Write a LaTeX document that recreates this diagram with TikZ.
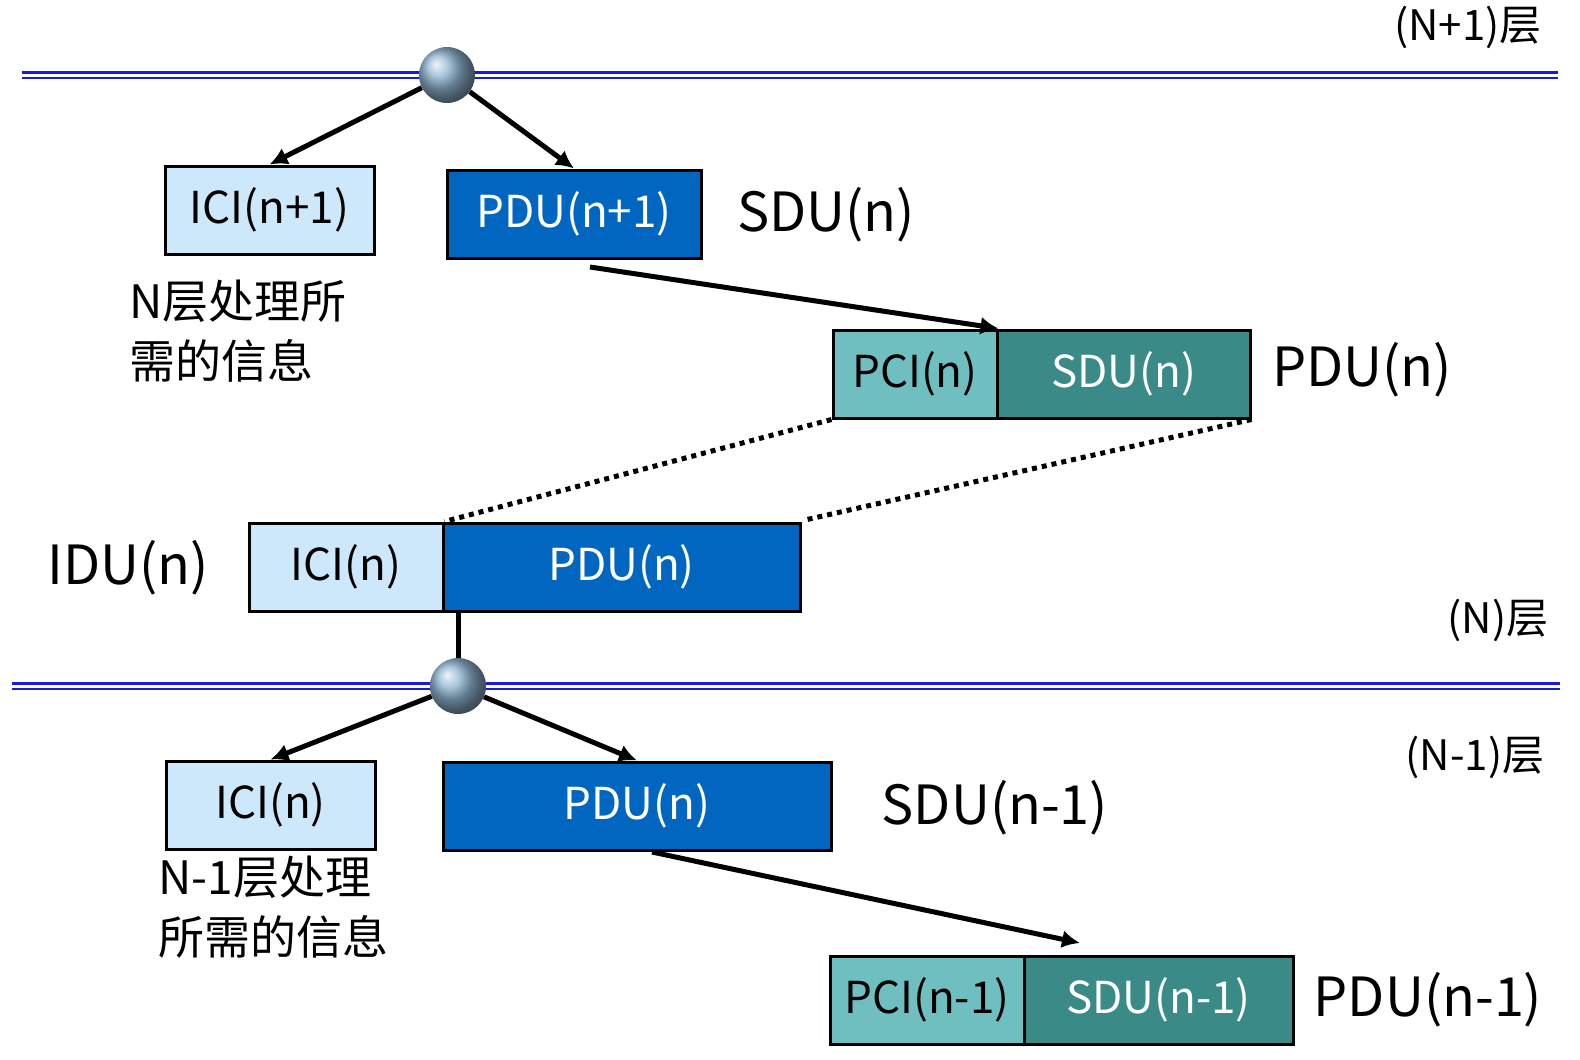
\documentclass[tikz,border=0pt]{standalone}
\usepackage{fontspec}
\setmainfont{Noto Sans CJK SC}
\usetikzlibrary{arrows.meta}
\definecolor{lb}{HTML}{CCE8FA}
\definecolor{db}{HTML}{0066C0}
\definecolor{tl}{HTML}{70BFC0}
\definecolor{td}{HTML}{3A8A88}
\definecolor{ln}{HTML}{1A1ADD}
\definecolor{bc}{HTML}{8FB4D0}
\begin{document}
\begin{tikzpicture}[x=1pt,y=-1pt,
  bx/.style={draw=black,line width=3pt,minimum height=88pt,inner sep=0pt,font=\fontsize{44}{48}\selectfont},
  lbox/.style={bx,fill=lb},
  dbox/.style={bx,fill=db,text=white},
  tbox/.style={bx,fill=tl},
  ubox/.style={bx,fill=td,text=white},
  big/.style={font=\fontsize{54}{58}\selectfont},
  lay/.style={font=\fontsize{42}{46}\selectfont},
  cn/.style={font=\fontsize{46}{60}\selectfont,align=left},
  arr/.style={line width=5pt,-{Latex[length=18pt,width=18pt]}},
  bus/.style={draw=ln,double=white,double distance=3pt,line width=2.5pt},
  ball/.style={circle,minimum size=56pt,inner sep=0pt,ball color=bc,draw=none}]
\useasboundingbox (0,0) rectangle (1580,1060);
% buses
\coordinate (b1l) at (22,75); \coordinate (b1r) at (1558,75);
\coordinate (b2l) at (12,686); \coordinate (b2r) at (1560,686);
\draw[bus] (b1l) -- (b1r);
\draw[bus] (b2l) -- (b2r);
\node[ball] (s1) at (447,75) {};
\node[ball] (s2) at (458,686) {};
\node[lay] (l1) at (1468,27) {(N+1)层};
\node[lay] (l2) at (1498,620) {(N)层};
\node[lay] (l3) at (1475,757) {(N-1)层};
% top
\node[lbox,minimum width=209pt] (ici1) at (269.5,210) {ICI(n+1)};
\node[dbox,minimum width=254pt] (pdu1) at (574,214) {PDU(n+1)};
\node[big] (sdun) at (826,215) {SDU(n)};
\node[cn,anchor=north west] (t1) at (126,276) {N层处理所\\需的信息};
\draw[arr] (s1) -- (ici1.north);
\draw[arr] (s1) -- (pdu1.north);
\node[tbox,minimum width=164pt] (pci) at (915,374) {PCI(n)};
\node[ubox,minimum width=253pt] (sdu) at (1123.5,374) {SDU(n)};
\node[big] (pdun) at (1362,370) {PDU(n)};
\coordinate (a1) at (590,267);
\draw[arr] (a1) -- (pci.north east);
% IDU
\node[big] (idu) at (128,568) {IDU(n)};
\node[lbox,minimum width=194pt] (ici2) at (346,567) {ICI(n)};
\node[dbox,minimum width=357pt] (pdu2) at (621.5,567) {PDU(n)};
\coordinate (d1) at (805,520);
\draw[line width=5pt,dash pattern=on 5pt off 5pt] (pci.south west) -- (ici2.north east);
\draw[line width=5pt,dash pattern=on 5pt off 5pt] (sdu.south east) -- (d1);
\coordinate (v1) at (458,612);
\draw[line width=5pt] (v1) -- (s2);
% bottom
\node[lbox,minimum width=209pt] (ici3) at (270.5,805) {ICI(n)};
\node[dbox,minimum width=388pt] (pdu3) at (637,806) {PDU(n)};
\node[big] (sdun1) at (995,808) {SDU(n-1)};
\node[cn,anchor=north west] (t2) at (155,852) {N-1层处理\\所需的信息};
\draw[arr] (s2) -- (ici3.north);
\draw[arr] (s2) -- (pdu3.north);
\node[tbox,minimum width=194pt] (pci3) at (927,1000) {PCI(n-1)};
\node[ubox,minimum width=269pt] (sdu3) at (1158.5,1000) {SDU(n-1)};
\node[big] (pdun1) at (1428,1000) {PDU(n-1)};
\coordinate (a2) at (652,852);
\coordinate (a3) at (1080,943);
\draw[arr] (a2) -- (a3);
\end{tikzpicture}
\end{document}
